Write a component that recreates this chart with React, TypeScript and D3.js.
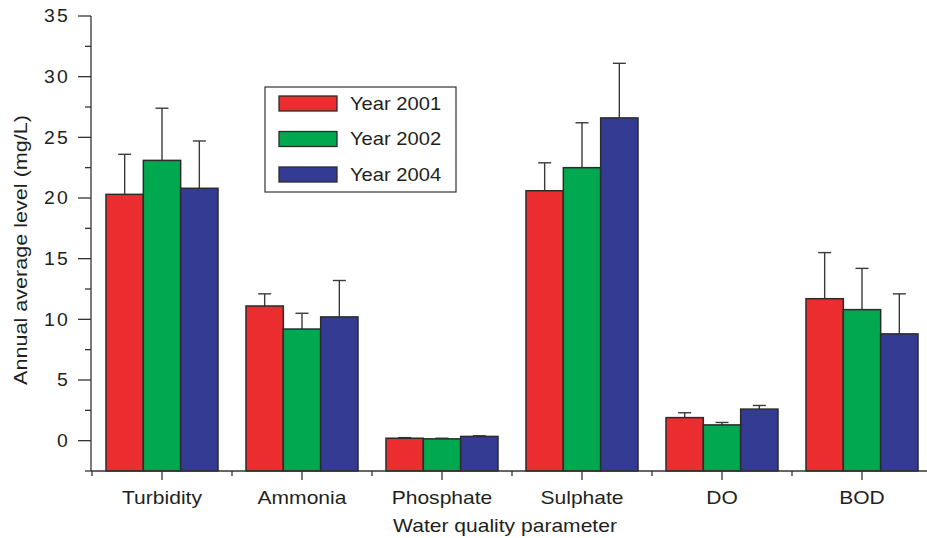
import React from "react";
import * as d3 from "d3";

const categories = ["Turbidity", "Ammonia", "Phosphate", "Sulphate", "DO", "BOD"];
const seriesNames = ["Year 2001", "Year 2002", "Year 2004"];
const seriesColors = ["#EC2D30", "#00A84F", "#343B93"];
const values2001 = [20.3, 11.1, 0.2, 20.6, 1.9, 11.7];
const values2002 = [23.1, 9.2, 0.15, 22.5, 1.3, 10.8];
const values2004 = [20.8, 10.2, 0.35, 26.6, 2.6, 8.8];
const upper2001 = [23.6, 12.1, 0.25, 22.9, 2.3, 15.5];
const upper2002 = [27.4, 10.5, 0.2, 26.2, 1.5, 14.2];
const upper2004 = [24.7, 13.2, 0.4, 31.1, 2.9, 12.1];
const yTicks = [0, 5, 10, 15, 20, 25, 30, 35];
const yMinorTicks = [-2.5, 2.5, 7.5, 12.5, 17.5, 22.5, 27.5, 32.5];

const W = 927;
const H = 538;

export default function App() {
  const values = [values2001, values2002, values2004];
  const uppers = [upper2001, upper2002, upper2004];
  const y = d3.scaleLinear().domain([-2.5, 35]).range([471, 16]);
  const x = d3
    .scaleBand<string>()
    .domain(categories)
    .range([92, 932])
    .paddingInner(0.2)
    .paddingOuter(0.1);
  const xs = d3.scaleBand<string>().domain(seriesNames).range([0, x.bandwidth()]);
  const step = x.step();
  const x0 = 92;
  const yBase = y(-2.5);
  const font = "'Liberation Sans', Arial, Helvetica, sans-serif";
  const textColor = "#231F20";
  const axisColor = "#333";
  const sx = 1.17;

  return (
    <svg
      width={W}
      height={H}
      style={{ position: "absolute", left: 0, top: 0, background: "#fff" }}
      fontFamily={font}
    >
      {/* bars */}
      {categories.map((c, i) =>
        seriesNames.map((s, j) => {
          const bx = (x(c) as number) + (xs(s) as number);
          const bw = xs.bandwidth();
          const v = values[j][i];
          const u = uppers[j][i];
          const cx = bx + bw / 2;
          return (
            <g key={c + s}>
              <line x1={cx} x2={cx} y1={y(v)} y2={y(u)} stroke="#3a3a3a" strokeWidth={1.4} />
              <line x1={cx - 6.5} x2={cx + 6.5} y1={y(u)} y2={y(u)} stroke="#3a3a3a" strokeWidth={1.4} />
              <rect
                x={bx}
                y={y(v)}
                width={bw}
                height={yBase - y(v)}
                fill={seriesColors[j]}
                stroke="#2b2b2b"
                strokeWidth={1.5}
              />
            </g>
          );
        })
      )}

      {/* y axis */}
      <line x1={91} x2={91} y1={y(35)} y2={yBase} stroke={axisColor} strokeWidth={1.3} />
      {yTicks.map((t) => (
        <g key={"yt" + t}>
          <line x1={78} x2={91} y1={y(t)} y2={y(t)} stroke={axisColor} strokeWidth={1.3} />
          <text
            transform={`translate(70, ${y(t)}) scale(1.08, 1)`}
            dy="0.35em"
            textAnchor="end"
            fontSize={18}
            letterSpacing={2}
            fill={textColor}
          >
            {t}
          </text>
        </g>
      ))}
      {yMinorTicks.map((t) => (
        <line key={"ym" + t} x1={85} x2={91} y1={y(t)} y2={y(t)} stroke={axisColor} strokeWidth={1.3} />
      ))}

      {/* x axis */}
      <line x1={91} x2={W} y1={yBase} y2={yBase} stroke={axisColor} strokeWidth={1.3} />
      {categories.map((c, i) => {
        const cx = (x(c) as number) + x.bandwidth() / 2;
        return (
          <g key={"xt" + c}>
            <line x1={cx} x2={cx} y1={yBase} y2={yBase + 9} stroke={axisColor} strokeWidth={1.3} />
            <line
              x1={x0 + step * i}
              x2={x0 + step * i}
              y1={yBase}
              y2={yBase + 5}
              stroke={axisColor}
              strokeWidth={1.3}
            />
            <text
              transform={`translate(${cx}, 504) scale(${sx}, 1)`}
              textAnchor="middle"
              fontSize={18}
              fill={textColor}
            >
              {c}
            </text>
          </g>
        );
      })}

      {/* axis titles */}
      <text
        transform={`translate(505, 532) scale(${sx}, 1)`}
        textAnchor="middle"
        fontSize={18}
        fill={textColor}
      >
        Water quality parameter
      </text>
      <text
        transform={`translate(27, 250) rotate(-90) scale(1.2, 1)`}
        textAnchor="middle"
        fontSize={18}
        fill={textColor}
      >
        Annual average level (mg/L)
      </text>

      {/* legend */}
      <rect x={265} y={87} width={191} height={105} fill="#fff" stroke="#333" strokeWidth={1.2} />
      {seriesNames.map((s, j) => (
        <g key={"lg" + s}>
          <rect
            x={279}
            y={96 + j * 35.5}
            width={58}
            height={15}
            fill={seriesColors[j]}
            stroke="#2b2b2b"
            strokeWidth={1.3}
          />
          <text
            transform={`translate(350, ${103.5 + j * 35.5}) scale(1.12, 1)`}
            dy="0.35em"
            fontSize={18}
            fill={textColor}
          >
            {s}
          </text>
        </g>
      ))}
    </svg>
  );
}
